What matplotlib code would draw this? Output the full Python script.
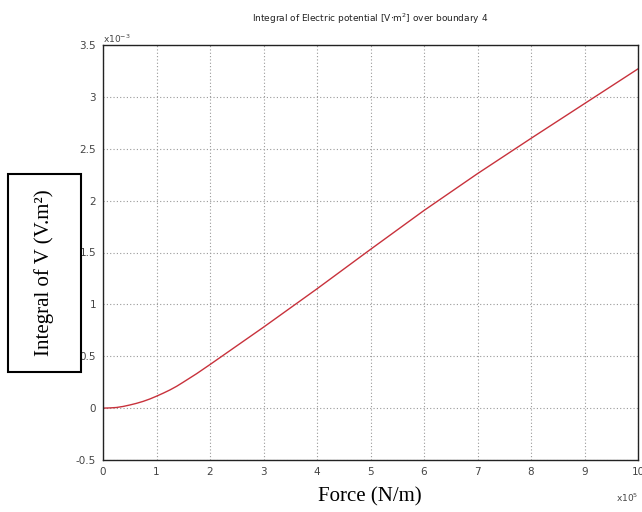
import matplotlib
matplotlib.use("Agg")
import matplotlib.pyplot as plt
from matplotlib.patches import Rectangle

# Force in units of 1e5 N/m, integral in units of 1e-3 V.m^2
force = [0, 0.125, 0.25, 0.375, 0.5, 0.625, 0.75, 0.875, 1, 1.125, 1.25, 1.375, 1.5,
         1.75, 2, 2.25, 2.5, 3, 3.5, 4, 5, 6, 7, 8, 9, 10]
integral_v = [0, 0.002, 0.006, 0.016, 0.03, 0.046, 0.065, 0.088, 0.115, 0.144, 0.175,
              0.21, 0.25, 0.332, 0.42, 0.51, 0.6, 0.78, 0.965, 1.15, 1.53, 1.905,
              2.26, 2.6, 2.935, 3.27]
x_ticks = list(range(0, 11))
y_ticks = [-0.5, 0, 0.5, 1, 1.5, 2, 2.5, 3, 3.5]
y_tick_labels = ["-0.5", "0", "0.5", "1", "1.5", "2", "2.5", "3", "3.5"]

fig = plt.figure(figsize=(6.42, 5.12), dpi=100)
ax = fig.add_axes([103/642, 1-460/512, (638-103)/642, (460-45)/512])
ax.plot(force, integral_v, color="#c8323c", lw=1.0)
ax.set_xlim(0, 10)
ax.set_ylim(-0.5, 3.5)
ax.set_xticks(x_ticks)
ax.set_yticks(y_ticks)
ax.set_yticklabels(y_tick_labels)
ax.tick_params(length=0, labelsize=7.5, labelcolor="#444444", pad=5)
ax.grid(True, color="#999999", ls=(0, (1, 2)), lw=0.8)
for s in ax.spines.values():
    s.set_color("#222222")
    s.set_linewidth(1.0)

ax.text(0.0, 1.0, "x10$^{-3}$", transform=ax.transAxes, fontsize=6.5, color="#444444",
        ha="left", va="bottom")
ax.text(1.0, -0.075, "x10$^{5}$", transform=ax.transAxes, fontsize=6.5, color="#444444",
        ha="right", va="top")

fig.text(370/642, 1-19/512, "Integral of Electric potential [V$\\cdot$m$^2$] over boundary 4",
         ha="center", va="center", fontsize=6.5, color="#222222")

fig.text(370/642, 1-497/512, "Force (N/m)", ha="center", va="center",
         fontsize=15, family="Liberation Serif")
fig.text(44.5/642, 1-273/512, "Integral of V (V.m²)", ha="center", va="center",
         rotation=90, fontsize=15, family="Liberation Serif")
fig.patches.append(Rectangle((8/642, 1-372/512), 73/642, 198/512, transform=fig.transFigure,
                             fill=False, ec="black", lw=1.5))

fig.savefig("out.png", dpi=100)
